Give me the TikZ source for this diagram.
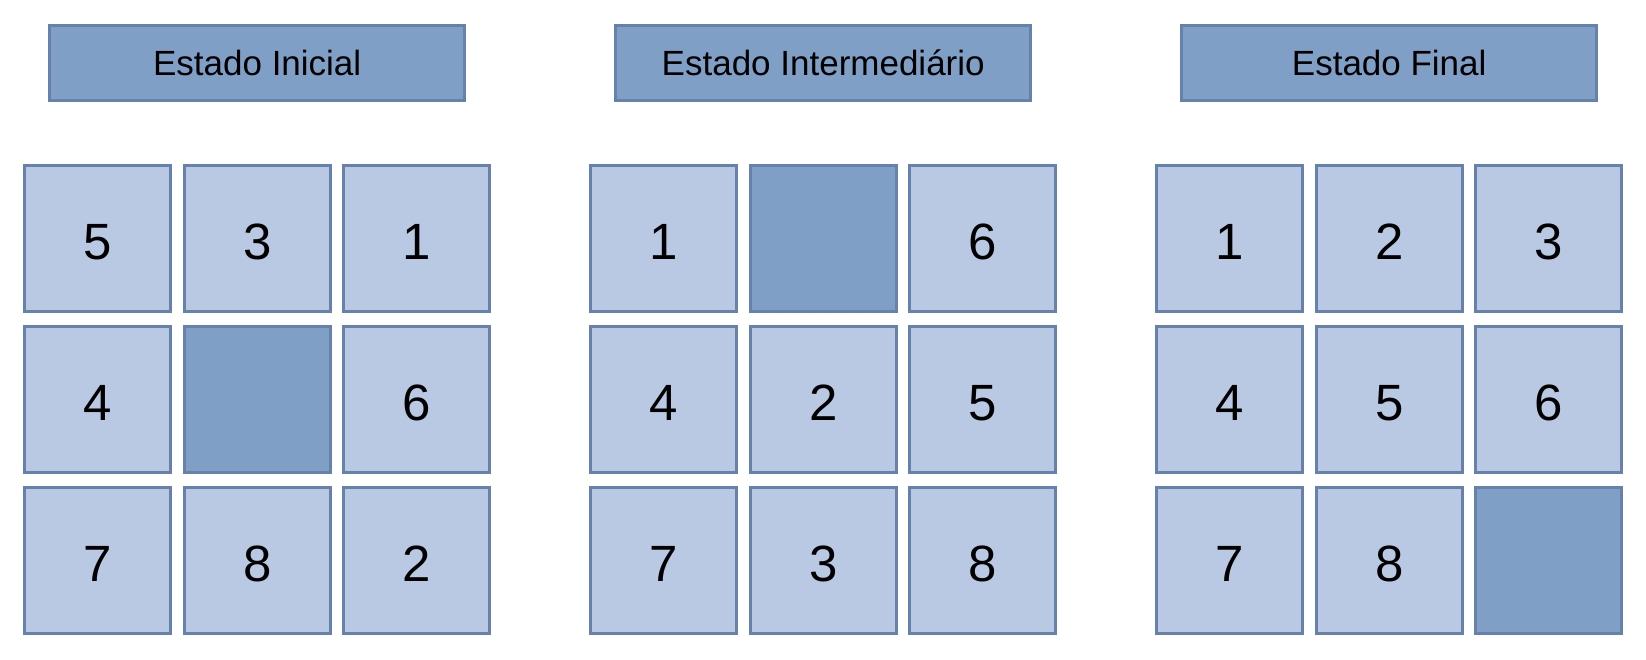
\documentclass[tikz,border=0pt]{standalone}
\usepackage{fontspec}
\setmainfont{Liberation Sans}
\definecolor{tilelight}{RGB}{185,201,227}
\definecolor{tiledark}{RGB}{127,159,198}
\definecolor{tileedge}{RGB}{102,129,172}
\tikzset{
  tile/.style={draw=tileedge, line width=3pt, fill=tilelight, minimum size=146pt, inner sep=0pt,
    text height=41pt, text depth=0pt, font=\fontsize{51}{51}\selectfont},
  blank/.style={tile, fill=tiledark},
  titlebox/.style={draw=tileedge, line width=3pt, fill=tiledark, minimum width=415pt, minimum height=75pt,
    inner sep=0pt, font=\fontsize{35}{35}\selectfont}
}
\begin{document}
\begin{tikzpicture}[x=1pt,y=-1pt]
\useasboundingbox (0,0) rectangle (1646,659);
% titles
\node[titlebox] (t1) at (257.2,63) {Estado Inicial};
\node[titlebox] (t2) at (823.2,63) {Estado Intermediário};
\node[titlebox] (t3) at (1389.2,63) {Estado Final};
% grids
\foreach \g/\vals in {0/{5,3,1,4,,6,7,8,2}, 1/{1,,6,4,2,5,7,3,8}, 2/{1,2,3,4,5,6,7,8,}} {
  \foreach \v [count=\i from 0] in \vals {
    \pgfmathtruncatemacro{\r}{int(\i/3)}
    \pgfmathtruncatemacro{\c}{mod(\i,3)}
    \pgfmathsetmacro{\xx}{97.8+566*\g+159.4*\c}
    \pgfmathsetmacro{\yy}{238.5+161*\r}
    \ifx\v\empty
      \node[blank] (g\g-\r-\c) at (\xx,\yy) {};
    \else
      \node[tile] (g\g-\r-\c) at (\xx,\yy) {\v};
    \fi
  }
}
\end{tikzpicture}
\end{document}
